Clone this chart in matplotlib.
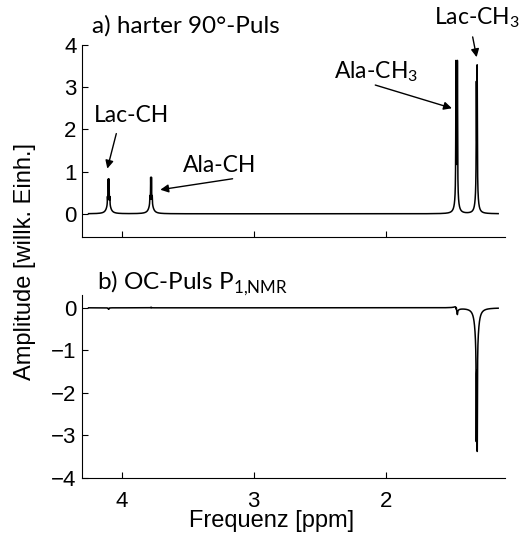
import numpy as np
import matplotlib
matplotlib.use('Agg')
import matplotlib.pyplot as plt

# peak data (ppm, amplitude)
names = ['Lac-CH', 'Ala-CH', 'Ala-CH$_\\mathregular{3}$', 'Lac-CH$_\\mathregular{3}$']
pos = [4.098, 3.777, 1.464, 1.312]

# a) hard 90 pulse: multiplet lines + broad hump under each multiplet
a_line_h = [0.50, 0.52, 3.00, 2.75]
a_split = [0.0060, 0.0060, 0.0110, 0.0060]
a_pattern = [[1, 3, 3, 1], [1, 3, 3, 1], [1, 1], [1, 0.85]]
a_line_w = [0.0010, 0.0010, 0.0015, 0.0015]
a_base_h = [0.32, 0.34, 0.75, 0.70]
a_base_w = [0.0140, 0.0140, 0.0100, 0.0095]

# b) OC pulse: only Lac-CH3 left, inverted; small residues elsewhere
b_line_h = [-0.02, 0.01, -0.06, -2.35]
b_split = [0.0045, 0.0045, 0.0110, 0.0075]
b_pattern = [[1, 3, 3, 1], [1, 3, 3, 1], [1, 1], [1, 0.9]]
b_line_w = [0.0010, 0.0010, 0.0015, 0.0012]
b_base_h = [-0.01, 0.0, -0.05, -1.05]
b_base_w = [0.0060, 0.0060, 0.0050, 0.0130]
b_disp_h = [0.0, 0.0, 0.14, 0.0]


def lorentz(x, x0, h, g):
    return h * g**2 / (g**2 + (x - x0)**2)


def dispers(x, x0, h, g):
    return h * g * (x - x0) / (g**2 + (x - x0)**2)


def spectrum(x, line_h, split, pattern, line_w, base_h, base_w, disp_h=None):
    y = np.zeros_like(x)
    for i in range(len(pos)):
        pat = np.array(pattern[i], dtype=float)
        pat = pat / pat.max()
        n = len(pat)
        for k in range(n):
            x0 = pos[i] + (k - (n - 1) / 2.0) * split[i]
            y += lorentz(x, x0, line_h[i] * pat[k], line_w[i])
        y += lorentz(x, pos[i], base_h[i], base_w[i])
        if disp_h is not None:
            y += dispers(x, pos[i], disp_h[i], 0.004)
    return y


ppm = np.linspace(4.25, 1.15, 40001)
spec_a = spectrum(ppm, a_line_h, a_split, a_pattern, a_line_w, a_base_h, a_base_w)
spec_b = spectrum(ppm, b_line_h, b_split, b_pattern, b_line_w, b_base_h, b_base_w, b_disp_h)

tick_font = 'Liberation Sans'
ann_font = 'Lato'

fig = plt.figure(figsize=(5.22, 5.35), dpi=100)
ax1 = fig.add_axes([0.157, 0.557, 0.810, 0.359])
ax2 = fig.add_axes([0.157, 0.1065, 0.810, 0.342])

for ax in (ax1, ax2):
    ax.spines['top'].set_visible(False)
    ax.spines['right'].set_visible(False)
    ax.set_xlim(4.3, 1.1)
    ax.set_xticks([4, 3, 2])
    ax.tick_params(direction='in', length=4, width=0.8, labelsize=16, pad=4)

ax1.plot(ppm, spec_a, color='black', lw=1.1)
ax1.set_ylim(-0.55, 4)
ax1.set_yticks([0, 1, 2, 3, 4])
ax1.set_xticklabels([])

ax2.plot(ppm, spec_b, color='black', lw=1.1)
ax2.set_ylim(-4, 0.3)
ax2.set_yticks([-4, -3, -2, -1, 0])
ax2.tick_params(axis='x', pad=9)
for ax in (ax1, ax2):
    for lab in ax.get_xticklabels() + ax.get_yticklabels():
        lab.set_fontfamily(tick_font)

fig.text(0.52, 1 - 521 / 535, 'Frequenz [ppm]', fontsize=17, family=tick_font,
         ha='center', va='center')
fig.text(0.048, 0.512, 'Amplitude [willk. Einh.]', rotation=90, fontsize=17,
         family=tick_font, ha='center', va='center')

# panel titles
fig.text(92 / 522, 1 - 33 / 535, 'a) harter 90°-Puls', fontsize=17.5, family=ann_font,
         ha='left', va='baseline')
fig.text(97 / 522, 1 - 289 / 535, 'b) OC-Puls P$_\\mathregular{1{,}NMR}$', fontsize=17.5,
         family=ann_font, ha='left', va='baseline')

# labels with arrows (text centre, arrow tail, arrow head)
txt_xy = [(3.926, 2.33), (3.26, 1.14), (2.074, 3.36), (1.313, 4.64)]
tail_xy = [(4.04, 1.90), (3.16, 0.83), (2.08, 3.05), (1.343, 4.19)]
head_xy = [(4.108, 1.07), (3.707, 0.57), (1.50, 2.50), (1.313, 3.71)]

for i in range(len(names)):
    ax1.text(txt_xy[i][0], txt_xy[i][1], names[i], fontsize=16.5, family=ann_font,
             ha='center', va='center', clip_on=False)
    ax1.annotate('', xy=head_xy[i], xytext=tail_xy[i], annotation_clip=False,
                 arrowprops=dict(arrowstyle='-|>', color='black', lw=1.0,
                                 mutation_scale=12, shrinkA=0, shrinkB=0))

fig.savefig('out.png', dpi=100)
